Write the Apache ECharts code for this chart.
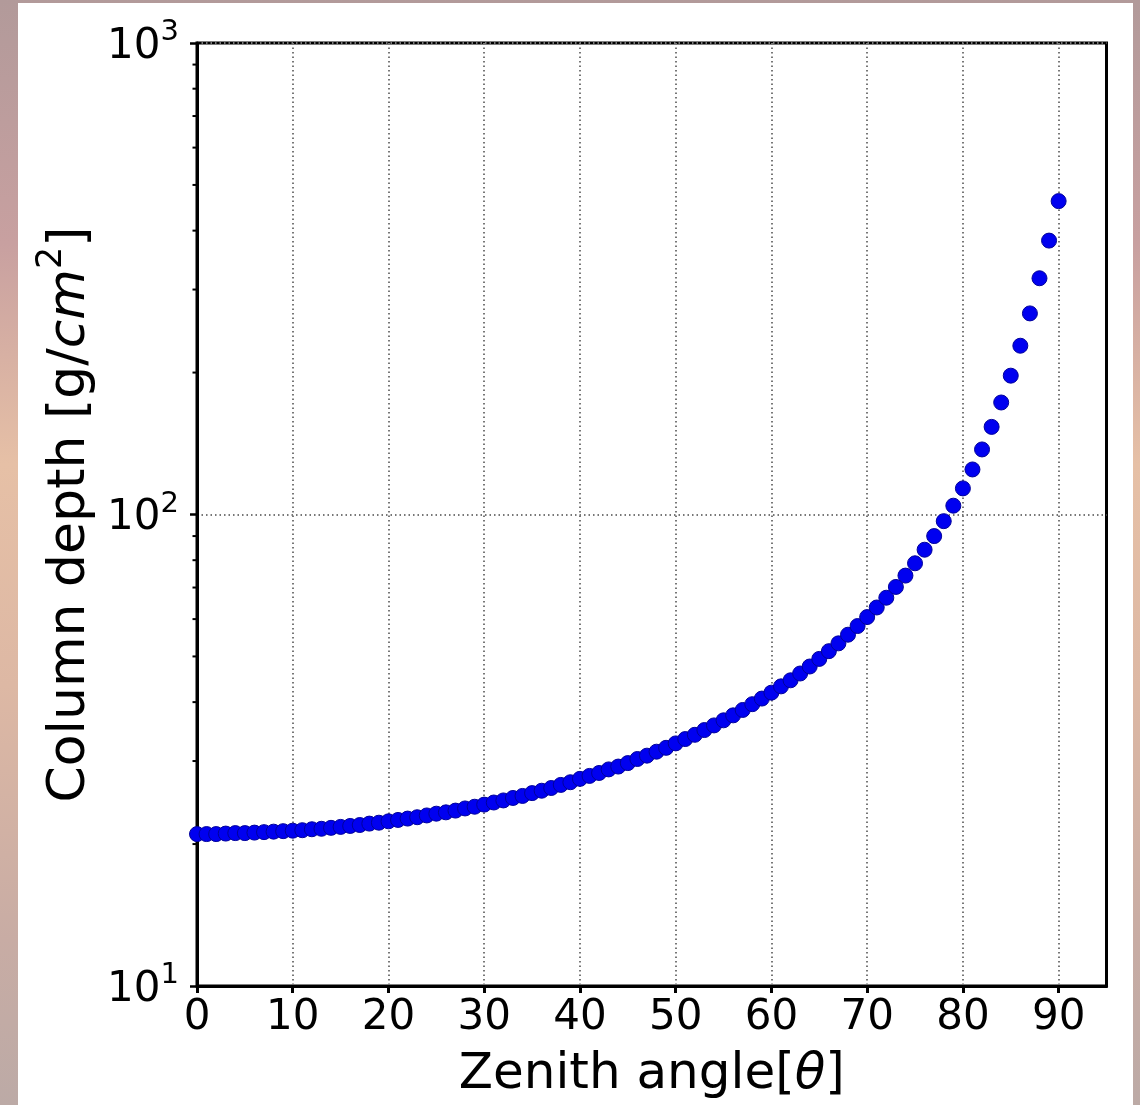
<!DOCTYPE html>
<html>
<head>
<meta charset="utf-8">
<script src="https://cdn.jsdelivr.net/npm/echarts@6/dist/echarts.min.js"></script>
<style>
  html, body { margin: 0; padding: 0; width: 1140px; height: 1105px; overflow: hidden; }
  body { background: linear-gradient(to bottom, #b29a9a 0%, #c8a0a0 22%, #e6c0a6 42%, #ddb8a4 62%, #c8aca4 85%, #bcaaa6 100%); position: relative; }
  #panel { position: absolute; left: 18px; top: 3px; width: 1115px; height: 1102px; background: #ffffff; }
  #chart { position: absolute; left: 0; top: 0; width: 1140px; height: 1105px; }
</style>
</head>
<body>
<div id="panel"></div>
<div id="chart"></div>
<script>
// ---- data ----
const zenithAngles = [0,1,2,3,4,5,6,7,8,9,10,11,12,13,14,15,16,17,18,19,20,21,22,23,24,25,26,27,28,29,30,31,32,33,34,35,36,37,38,39,40,41,42,43,44,45,46,47,48,49,50,51,52,53,54,55,56,57,58,59,60,61,62,63,64,65,66,67,68,69,70,71,72,73,74,75,76,77,78,79,80,81,82,83,84,85,86,87,88,89,90];
const columnDepth = [21.0,21.0,21.0,21.05,21.1,21.1,21.15,21.2,21.25,21.3,21.35,21.4,21.5,21.55,21.65,21.75,21.85,21.95,22.1,22.2,22.35,22.5,22.65,22.8,23.0,23.2,23.35,23.55,23.8,24.0,24.25,24.5,24.75,25.05,25.3,25.65,25.95,26.3,26.7,27.05,27.5,27.9,28.3,28.8,29.2,29.7,30.3,30.8,31.4,32.0,32.7,33.4,34.1,34.9,35.7,36.6,37.5,38.5,39.6,40.7,41.9,43.2,44.5,46.0,47.6,49.4,51.3,53.3,55.6,58.0,60.6,63.5,66.6,70.2,74.2,78.8,84.2,90.0,96.8,104.4,113.6,124.6,137.4,153.4,172.8,197,228,267,317,381,462];
const xTickValues = [0,10,20,30,40,50,60,70,80,90];
const yMajorTicks = [10,100,1000];
const yMinorTicks = [20,30,40,50,60,70,80,90,200,300,400,500,600,700,800,900];
const xAxisTitle = 'Zenith angle';
const yAxisTitle = 'Column depth';

const FONT = 'DejaVu Sans';
const points = zenithAngles.map((a, i) => [a, columnDepth[i]]);
const minorData = yMinorTicks.map(v => [0, v]);

const chart = echarts.init(document.getElementById('chart'), null, { renderer: 'canvas' });
chart.setOption({
  backgroundColor: 'transparent',
  animation: false,
  grid: {
    left: 197, top: 43, width: 909.5, height: 944,
    show: true, borderColor: '#000', borderWidth: 3, backgroundColor: 'transparent'
  },
  xAxis: {
    type: 'value', min: 0, max: 95, interval: 10,
    axisLine: { show: true, onZero: false, lineStyle: { color: '#000', width: 3 } },
    axisTick: { show: true, length: 7, customValues: xTickValues, lineStyle: { color: '#000', width: 3 } },
    axisLabel: { customValues: xTickValues, margin: 11, color: '#000', fontFamily: FONT, fontSize: 42 },
    splitLine: { show: true, lineStyle: { color: '#777', width: 2, type: [1.5, 3] } },
    name: '{n|' + xAxisTitle + '[}{i|θ}{n|]}',
    nameLocation: 'middle', nameGap: 64,
    nameTextStyle: {
      rich: {
        n: { fontFamily: FONT, fontSize: 50, color: '#000' },
        i: { fontFamily: FONT, fontSize: 50, fontStyle: 'italic', color: '#000' }
      }
    }
  },
  yAxis: {
    type: 'log', logBase: 10, min: 10, max: 1000,
    axisLine: { show: true, onZero: false, lineStyle: { color: '#000', width: 3 } },
    axisTick: { show: true, length: 7, lineStyle: { color: '#000', width: 2.5 } },
    axisLabel: {
      margin: 18, color: '#000',
      formatter: function (v) {
        const e = Math.round(Math.log10(v));
        return '{b|10}{s|' + e + '}';
      },
      rich: {
        b: { fontFamily: FONT, fontSize: 42, color: '#000', lineHeight: 50, verticalAlign: 'bottom' },
        s: { fontFamily: FONT, fontSize: 29, color: '#000', lineHeight: 29, verticalAlign: 'top' }
      }
    },
    splitLine: { show: true, lineStyle: { color: '#777', width: 2, type: [1.5, 3] } },
    name: '{n|' + yAxisTitle + ' [g/}{i|cm}{s|2}{n|]}',
    nameLocation: 'middle', nameGap: 97, nameRotate: 90,
    nameTextStyle: {
      rich: {
        n: { fontFamily: FONT, fontSize: 52, color: '#000', lineHeight: 62, verticalAlign: 'bottom' },
        i: { fontFamily: FONT, fontSize: 52, fontStyle: 'italic', color: '#000', lineHeight: 62, verticalAlign: 'bottom' },
        s: { fontFamily: FONT, fontSize: 35, color: '#000', lineHeight: 35, verticalAlign: 'top' }
      }
    }
  },
  series: [
    {
      type: 'scatter',
      data: points,
      symbol: 'circle',
      symbolSize: 15,
      itemStyle: { color: '#0000f0', borderColor: '#00009a', borderWidth: 1, opacity: 1 },
      z: 5
    },
    {
      type: 'custom',
      data: minorData,
      clip: false,
      silent: true,
      z: 6,
      renderItem: function (params, api) {
        const p = api.coord([api.value(0), api.value(1)]);
        return {
          type: 'line',
          shape: { x1: p[0] - 4.5, y1: p[1], x2: p[0], y2: p[1] },
          style: { stroke: '#000', lineWidth: 2 }
        };
      }
    }
  ]
});
</script>
</body>
</html>
